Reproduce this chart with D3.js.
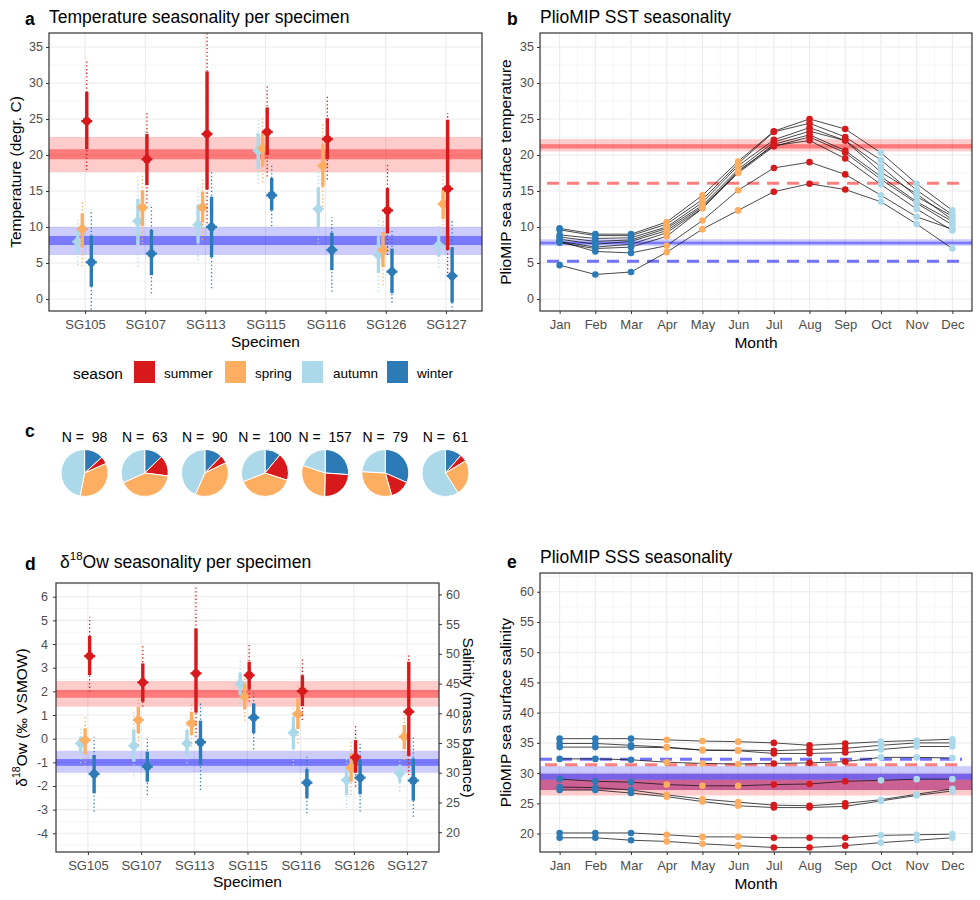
<!DOCTYPE html>
<html><head><meta charset="utf-8">
<script src="https://cdn.jsdelivr.net/npm/d3@7"></script>
<style>
body{margin:0;background:#fff;}
svg{font-family:"Liberation Sans",Arial,sans-serif;}
text{white-space:pre;}
</style></head><body>
<svg id="chart" width="980" height="900"></svg>
<script>
// ---------------- DATA ----------------
const specimens = ["SG105","SG107","SG113","SG115","SG116","SG126","SG127"];
const seasons = ["summer","spring","autumn","winter"];
const seasonColors = {summer:"#d7191c", spring:"#fdae61", autumn:"#abd9e9", winter:"#2c7bb6"};
const months = ["Jan","Feb","Mar","Apr","May","Jun","Jul","Aug","Sep","Oct","Nov","Dec"];
const monthSeason = ["winter","winter","winter","spring","spring","spring","summer","summer","summer","autumn","autumn","autumn"];

// Panel a: temperature [mean, thickLow, thickHigh, dottedLow, dottedHigh] per specimen
const tempSummer = [[24.7,20.8,28.75,17.9,33.0],[19.4,15.8,22.9,13.3,25.8],[22.9,15.2,31.6,10.0,37.0],[23.2,20.0,26.6,17.0,29.6],[22.2,19.4,25.1,16.6,28.1],[12.3,9.1,15.4,6.1,18.8],[15.3,6.8,24.9,3.6,25.8]];
const tempSpring = [[9.7,7.2,11.9,4.5,13.75],[12.7,10.1,15.1,7.7,17.5],[12.7,10.6,14.9,8.2,16.8],[20.9,18.4,23.1,16.2,25.1],[18.5,15.6,21.5,12.8,24.4],[6.8,4.4,9.3,1.9,11.2],[13.2,11.1,15.2,8.7,17.5]];
const tempAutumn = [[7.96,6.3,9.6,4.7,11.0],[10.8,7.5,13.9,4.5,17.0],[10.3,7.7,13.1,5.4,15.6],[20.6,18.1,23.0,16.0,25.1],[12.5,9.7,15.5,7.7,17.9],[6.1,3.6,8.7,1.0,11.2],[7.45,5.9,9.1,4.3,10.3]];
const tempWinter = [[5.1,1.7,8.8,-1.5,12.4],[6.3,3.3,9.6,0.8,12.8],[10.0,5.8,14.2,1.5,17.7],[14.4,12.3,16.8,10.1,18.6],[6.8,4.0,9.2,1.0,11.4],[3.8,0.8,7.0,-0.5,9.6],[3.2,-0.5,7.2,-1.7,11.0]];
const tempSummerBand = [17.6,22.5], tempSummerBandCore = [19.4,20.8];
const tempWinterBand = [6.1,10.0], tempWinterBandCore = [7.5,8.75];

// Panel b: PlioMIP SST per model (Jan..Dec)
const sstModels = [
  [9.8,9.0,9.0,10.7,14.4,19.1,23.3,25.0,23.6,20.3,16.0,12.3],
  [9.6,8.8,8.8,10.4,13.8,18.8,23.2,24.4,22.5,19.3,15.1,11.7],
  [8.9,8.4,8.5,10.0,13.4,18.5,22.1,23.8,22.0,18.4,14.2,11.5],
  [8.6,8.0,8.2,9.8,13.0,18.0,21.8,23.3,22.0,17.6,14.6,11.0],
  [8.3,7.6,8.0,9.5,12.8,17.6,21.5,22.8,20.6,17.0,13.5,10.8],
  [8.0,7.2,7.6,9.2,12.6,17.5,21.2,22.5,20.3,16.6,13.3,10.3],
  [7.8,7.0,7.2,8.7,12.6,17.8,21.3,22.0,19.5,15.9,12.5,9.5],
  [8.0,6.6,6.4,7.4,10.9,15.1,18.2,19.0,17.3,14.4,11.4,9.7],
  [4.7,3.4,3.75,6.5,9.7,12.3,14.9,16.0,15.2,13.5,10.4,7.0]
];
const sstSummerBand = [20.5,22.2], sstSummerBandCore = [20.9,21.5];
const sstWinterBand = [7.4,8.3], sstWinterBandCore = [7.6,7.96];
const sstSummerDashed = 16.06, sstWinterDashed = 5.23;

// Panel c: number of samples per season per specimen
const pieWinter = [13,8,11,11,41,25,7];
const pieSummer = [5,9,5,19,38,11,3];
const pieSpring = [34,26,35,39,47,24,15];
const pieAutumn = [46,20,39,31,31,19,36];

// Panel d: d18Ow [mean, thickLow, thickHigh, dottedLow, dottedHigh]
const d18Summer = [[3.49,2.69,4.34,1.99,5.15],[2.38,1.56,3.18,1.35,3.96],[2.76,1.1,4.66,0.08,6.4],[2.68,2.08,3.25,1.56,3.96],[2.01,1.38,2.68,0.79,3.39],[-0.79,-1.44,-0.06,-2.03,0.58],[1.14,-0.73,3.25,-1.54,3.54]];
const d18Spring = [[-0.06,-0.65,0.44,-1.18,1.0],[0.79,0.23,1.35,-0.27,1.77],[0.65,0.15,1.14,-0.34,1.56],[1.77,1.24,2.31,0.76,2.76],[1.04,0.41,1.7,-0.2,2.27],[-1.23,-1.82,-0.62,-2.38,-0.13],[0.08,-0.45,0.58,-0.9,1.07]];
const d18Autumn = [[-0.2,-0.62,0.08,-1.04,0.44],[-0.3,-0.97,0.39,-1.6,1.2],[-0.2,-0.76,0.37,-1.04,0.86],[2.31,1.85,2.79,1.35,3.39],[0.25,-0.45,0.93,-1.11,1.42],[-1.75,-2.38,-1.18,-2.94,-0.69],[-1.46,-1.86,-1.11,-2.24,-0.76]];
const d18Winter = [[-1.49,-2.31,-0.69,-3.08,0.08],[-1.18,-1.82,-0.55,-2.38,0.0],[-0.15,-1.11,0.76,-2.17,1.49],[0.89,0.23,1.49,-0.45,1.99],[-1.86,-2.52,-1.28,-3.15,-0.76],[-1.65,-2.35,-0.9,-3.08,-0.13],[-1.77,-2.62,-0.83,-3.3,0.08]];
const d18SummerBand = [1.35,2.44], d18SummerBandCore = [1.73,2.06];
const d18WinterBand = [-1.44,-0.52], d18WinterBandCore = [-1.15,-0.86];

// Panel e: PlioMIP SSS per model
const sssModels = [
  [35.7,35.7,35.7,35.5,35.3,35.2,35.0,34.6,34.9,35.2,35.4,35.6],
  [34.9,34.9,34.6,34.3,33.8,33.8,33.7,33.9,34.1,34.6,35.0,35.0],
  [34.3,34.3,34.3,34.2,33.8,33.7,33.25,33.25,33.4,33.9,34.4,34.4],
  [32.35,32.35,32.2,31.8,31.6,31.5,31.6,31.7,31.9,32.6,32.6,32.5],
  [29.0,28.65,28.5,28.1,27.9,27.9,28.1,28.2,28.65,28.8,29.0,29.0],
  [27.7,27.6,27.2,26.4,25.7,25.2,24.7,24.6,25.0,25.6,26.5,27.4],
  [27.2,27.2,26.7,26.1,25.3,24.6,24.3,24.3,24.5,25.4,26.3,27.05],
  [20.1,20.1,20.1,19.8,19.45,19.45,19.3,19.3,19.3,19.7,19.8,19.9],
  [19.3,19.3,18.9,18.7,18.3,18.0,17.7,17.7,18.0,18.5,18.9,19.3]
];
const sssWinterBand = [27.2,31.15], sssWinterBandCore = [28.9,29.9];
const sssSummerBand = [26.3,29.9], sssSummerBandCore = [27.2,28.9];
const sssWinterDashed = 32.3, sssSummerDashed = 31.4;

// ---------------- DRAWING ----------------
const svg = d3.select("#chart");
const GRID_MAJOR = "#ebebeb", GRID_MINOR = "#f4f4f4";
const TXT = "#4d4d4d", DARK = "#333333";

function hline(g, x0, x1, y, col, w){ g.append("line").attr("x1",x0).attr("x2",x1).attr("y1",y).attr("y2",y).attr("stroke",col).attr("stroke-width",w); }
function vline(g, x, y0, y1, col, w){ g.append("line").attr("x1",x).attr("x2",x).attr("y1",y0).attr("y2",y1).attr("stroke",col).attr("stroke-width",w); }

function panelBase(id, L, R, T, B, y, yMajor, yMinor, xMajorPos, xMinorPos){
  const g = svg.append("g");
  g.append("clipPath").attr("id",id).append("rect").attr("x",L).attr("y",T).attr("width",R-L).attr("height",B-T);
  yMinor.forEach(v => hline(g, L, R, y(v), GRID_MINOR, 0.8));
  xMinorPos.forEach(px => vline(g, px, T, B, GRID_MINOR, 0.8));
  yMajor.forEach(v => hline(g, L, R, y(v), GRID_MAJOR, 1.1));
  xMajorPos.forEach(px => vline(g, px, T, B, GRID_MAJOR, 1.1));
  return g;
}
function border(L,R,T,B){
  svg.append("rect").attr("x",L).attr("y",T).attr("width",R-L).attr("height",B-T).attr("fill","none").attr("stroke",DARK).attr("stroke-width",1.2);
}
function styleAxis(ax, fs){
  ax.select(".domain").remove();
  ax.selectAll(".tick line").attr("stroke",DARK).attr("stroke-width",1);
  ax.selectAll(".tick text").attr("fill",TXT).attr("font-size",fs).attr("font-family","Liberation Sans, Arial, sans-serif");
}
function band(g, x0, x1, y, rng, col){
  g.append("rect").attr("x",x0).attr("width",x1-x0).attr("y",y(rng[1])).attr("height",y(rng[0])-y(rng[1])).attr("fill",col);
}
function dashed(g, x0, x1, yv, col){
  g.append("line").attr("x1",x0).attr("x2",x1).attr("y1",yv).attr("y2",yv).attr("stroke",col).attr("stroke-width",3).attr("stroke-dasharray","12,8");
}
function label(x, y, txt, fs, opts={}){
  const t = svg.append("text").attr("x",x).attr("y",y).attr("font-size",fs).attr("fill",opts.fill||"#000").text(txt);
  if(opts.anchor) t.attr("text-anchor",opts.anchor);
  if(opts.weight) t.attr("font-weight",opts.weight);
  if(opts.rotate!==undefined) t.attr("transform",`rotate(${opts.rotate},${x},${y})`);
  return t;
}
const redL = "rgba(255,0,0,0.2)", redD = "rgba(255,0,0,0.4)";
const bluL = "rgba(0,0,255,0.2)", bluD = "rgba(0,0,255,0.4)";
const dodge = {autumn:-7.3, spring:-2.8, summer:1.7, winter:6.2};
const drawOrder = ["autumn","spring","summer","winter"];

function errorbars(g, x, y, sets){
  drawOrder.forEach(s => {
    const arr = sets[s], col = seasonColors[s];
    arr.forEach((d,i) => {
      const cx = x(specimens[i]) + dodge[s];
      g.append("line").attr("x1",cx).attr("x2",cx).attr("y1",y(d[3])).attr("y2",y(d[4]))
        .attr("stroke",col).attr("stroke-width",1.3).attr("stroke-dasharray","1.3,2.4");
      g.append("line").attr("x1",cx).attr("x2",cx).attr("y1",y(d[1])).attr("y2",y(d[2]))
        .attr("stroke",col).attr("stroke-width",3.4);
      g.append("line").attr("x1",cx-5.5).attr("x2",cx+5.5).attr("y1",y(d[0])).attr("y2",y(d[0]))
        .attr("stroke",col).attr("stroke-width",2.4);
      g.append("circle").attr("cx",cx).attr("cy",y(d[0])).attr("r",4.2).attr("fill",col);
    });
  });
}

// ===== Panel a =====
{
  const L=49,R=482,T=33,B=311;
  const y = d3.scaleLinear().domain([-1.67,36.94]).range([B,T]);
  const x = d3.scalePoint().domain(specimens).range([L,R]).padding(0.6);
  const g = panelBase("clipA",L,R,T,B,y,d3.range(0,36,5),d3.range(2.5,35,5),specimens.map(s=>x(s)),[]);
  const gc = g.append("g").attr("clip-path","url(#clipA)");
  band(gc,L,R,y,tempSummerBand,redL); band(gc,L,R,y,tempSummerBandCore,redD);
  band(gc,L,R,y,tempWinterBand,bluL); band(gc,L,R,y,tempWinterBandCore,bluD);
  errorbars(gc,x,y,{summer:tempSummer,spring:tempSpring,autumn:tempAutumn,winter:tempWinter});
  border(L,R,T,B);
  styleAxis(svg.append("g").attr("transform",`translate(${L},0)`).call(d3.axisLeft(y).tickValues(d3.range(0,36,5)).tickSize(3).tickPadding(3)),12.5);
  styleAxis(svg.append("g").attr("transform",`translate(0,${B})`).call(d3.axisBottom(x).tickSize(3).tickPadding(6)),13);
  label(25,25,"a",17.5,{weight:"bold"});
  label(49,22.5,"Temperature seasonality per specimen",17.5);
  label(21,(T+B)/2,"Temperature (degr. C)",15.5,{anchor:"middle",rotate:-90});
  label((L+R)/2,347,"Specimen",15.5,{anchor:"middle"});
  // legend
  label(73,379,"season",15.5);
  const keys = [134,225,302,387], lab = [164,255,333,417];
  seasons.forEach((s,i) => {
    svg.append("rect").attr("x",keys[i]).attr("y",361).attr("width",21).attr("height",22).attr("fill",seasonColors[s]);
    label(lab[i],377.5,s,13.5);
  });
}

// ===== Panel b =====
{
  const L=540,R=972,T=33,B=311;
  const y = d3.scaleLinear().domain([-1.67,36.94]).range([B,T]);
  const x = d3.scaleLinear().domain([0.45,12.55]).range([L,R]);
  const g = panelBase("clipB",L,R,T,B,y,d3.range(0,36,5),d3.range(2.5,35,5),d3.range(1,13).map(x),d3.range(0.5,13,1).map(x));
  const gc = g.append("g").attr("clip-path","url(#clipB)");
  band(gc,L,R,y,sstSummerBand,redL); band(gc,L,R,y,sstSummerBandCore,redD);
  band(gc,L,R,y,sstWinterBand,bluL); band(gc,L,R,y,sstWinterBandCore,bluD);
  dashed(gc,547,962,y(sstSummerDashed),"rgba(255,0,0,0.5)");
  dashed(gc,547,962,y(sstWinterDashed),"rgba(0,0,255,0.55)");
  const line = d3.line().x((d,i)=>x(i+1)).y(d=>y(d));
  sstModels.forEach(m => gc.append("path").attr("d",line(m)).attr("fill","none").attr("stroke","#111").attr("stroke-width",0.9).attr("stroke-opacity",0.85));
  sstModels.forEach(m => m.forEach((v,i) => gc.append("circle").attr("cx",x(i+1)).attr("cy",y(v)).attr("r",3.3).attr("fill",seasonColors[monthSeason[i]])));
  border(L,R,T,B);
  styleAxis(svg.append("g").attr("transform",`translate(${L},0)`).call(d3.axisLeft(y).tickValues(d3.range(0,36,5)).tickSize(3).tickPadding(3)),12.5);
  styleAxis(svg.append("g").attr("transform",`translate(0,${B})`).call(d3.axisBottom(x).tickValues(d3.range(1,13)).tickFormat(d=>months[d-1]).tickSize(3).tickPadding(6)),13);
  label(507,25,"b",17.5,{weight:"bold"});
  label(540,22.5,"PlioMIP SST seasonality",17.5);
  label(511,(T+B)/2,"PlioMIP sea surface temperature",15.5,{anchor:"middle",rotate:-90});
  label((L+R)/2,348,"Month",15.5,{anchor:"middle"});
}

// ===== Panel c =====
{
  label(25,437,"c",17.5,{weight:"bold"});
  const cxs = d3.scalePoint().domain(specimens).range([49,482]).padding(0.6);
  const pie = d3.pie().sort(null).value(d=>d.v);
  const arc = d3.arc().innerRadius(0).outerRadius(23.5);
  specimens.forEach((s,i) => {
    const cx = cxs(s)-0.5, cy = 473;
    const n = pieWinter[i]+pieSummer[i]+pieSpring[i]+pieAutumn[i];
    const data = [{s:"winter",v:pieWinter[i]},{s:"summer",v:pieSummer[i]},{s:"spring",v:pieSpring[i]},{s:"autumn",v:pieAutumn[i]}];
    const g = svg.append("g").attr("transform",`translate(${cx},${cy})`);
    g.selectAll("path").data(pie(data)).join("path").attr("d",arc).attr("fill",d=>seasonColors[d.data.s]).attr("stroke","#fff").attr("stroke-width",1);
    label(cx,442,"N =  " + n,14,{anchor:"middle"});
  });
}

// ===== Panel d =====
{
  const L=56,R=439,T=583,B=852;
  const y = d3.scaleLinear().domain([-4.79,6.58]).range([B,T]);
  const sal = d3.scaleLinear().domain([16.67,61.92]).range([B,T]);
  const x = d3.scalePoint().domain(specimens).range([L,R]).padding(0.6);
  const g = panelBase("clipD",L,R,T,B,y,d3.range(-4,7,1),d3.range(-4.5,7,1),specimens.map(s=>x(s)),[]);
  const gc = g.append("g").attr("clip-path","url(#clipD)");
  band(gc,L,R,y,d18SummerBand,redL); band(gc,L,R,y,d18SummerBandCore,redD);
  band(gc,L,R,y,d18WinterBand,bluL); band(gc,L,R,y,d18WinterBandCore,bluD);
  errorbars(gc,x,y,{summer:d18Summer,spring:d18Spring,autumn:d18Autumn,winter:d18Winter});
  border(L,R,T,B);
  styleAxis(svg.append("g").attr("transform",`translate(${L},0)`).call(d3.axisLeft(y).tickValues(d3.range(-4,7,1)).tickFormat(d=>String(d)).tickSize(3).tickPadding(5)),12.5);
  styleAxis(svg.append("g").attr("transform",`translate(${R},0)`).call(d3.axisRight(sal).tickValues(d3.range(20,61,5)).tickSize(3).tickPadding(4)),12.5);
  styleAxis(svg.append("g").attr("transform",`translate(0,${B})`).call(d3.axisBottom(x).tickSize(3).tickPadding(6)),13);
  label(25,570,"d",17.5,{weight:"bold"});
  const t = svg.append("text").attr("x",60).attr("y",568).attr("font-size",17.5);
  t.append("tspan").text("δ");
  t.append("tspan").attr("font-size",11.5).attr("dy",-8).text("18");
  t.append("tspan").attr("dy",8).text("Ow seasonality per specimen");
  const yt = svg.append("text").attr("x",27).attr("y",(T+B)/2).attr("font-size",15.5).attr("text-anchor","middle").attr("transform",`rotate(-90,27,${(T+B)/2})`);
  yt.append("tspan").text("δ");
  yt.append("tspan").attr("font-size",10.5).attr("dy",-7).text("18");
  yt.append("tspan").attr("dy",7).text("Ow (‰ VSMOW)");
  label(463,(T+B)/2,"Salinity (mass balance)",15.5,{anchor:"middle",rotate:90});
  label((L+R)/2,887,"Specimen",15.5,{anchor:"middle"});
}

// ===== Panel e =====
{
  const L=540,R=972,T=573,B=852;
  const y = d3.scaleLinear().domain([16.95,63.1]).range([B,T]);
  const x = d3.scaleLinear().domain([0.45,12.55]).range([L,R]);
  const g = panelBase("clipE",L,R,T,B,y,d3.range(20,61,5),d3.range(17.5,63,5),d3.range(1,13).map(x),d3.range(0.5,13,1).map(x));
  const gc = g.append("g").attr("clip-path","url(#clipE)");
  band(gc,L,R,y,sssSummerBand,redL); band(gc,L,R,y,sssSummerBandCore,redD);
  band(gc,L,R,y,sssWinterBand,bluL); band(gc,L,R,y,sssWinterBandCore,bluD);
  dashed(gc,540,962,y(sssWinterDashed),"rgba(0,0,255,0.55)");
  dashed(gc,545,962,y(sssSummerDashed),"rgba(255,0,0,0.5)");
  const line = d3.line().x((d,i)=>x(i+1)).y(d=>y(d));
  sssModels.forEach(m => gc.append("path").attr("d",line(m)).attr("fill","none").attr("stroke","#111").attr("stroke-width",0.9).attr("stroke-opacity",0.85));
  sssModels.forEach(m => m.forEach((v,i) => gc.append("circle").attr("cx",x(i+1)).attr("cy",y(v)).attr("r",3.3).attr("fill",seasonColors[monthSeason[i]])));
  border(L,R,T,B);
  styleAxis(svg.append("g").attr("transform",`translate(${L},0)`).call(d3.axisLeft(y).tickValues(d3.range(20,61,5)).tickSize(3).tickPadding(3)),12.5);
  styleAxis(svg.append("g").attr("transform",`translate(0,${B})`).call(d3.axisBottom(x).tickValues(d3.range(1,13)).tickFormat(d=>months[d-1]).tickSize(3).tickPadding(6)),13);
  label(507,568,"e",17.5,{weight:"bold"});
  label(540,563,"PlioMIP SSS seasonality",17.5);
  label(511,(T+B)/2,"PlioMIP sea surface salinity",15.5,{anchor:"middle",rotate:-90});
  label((L+R)/2,889,"Month",15.5,{anchor:"middle"});
}
</script>
</body></html>
